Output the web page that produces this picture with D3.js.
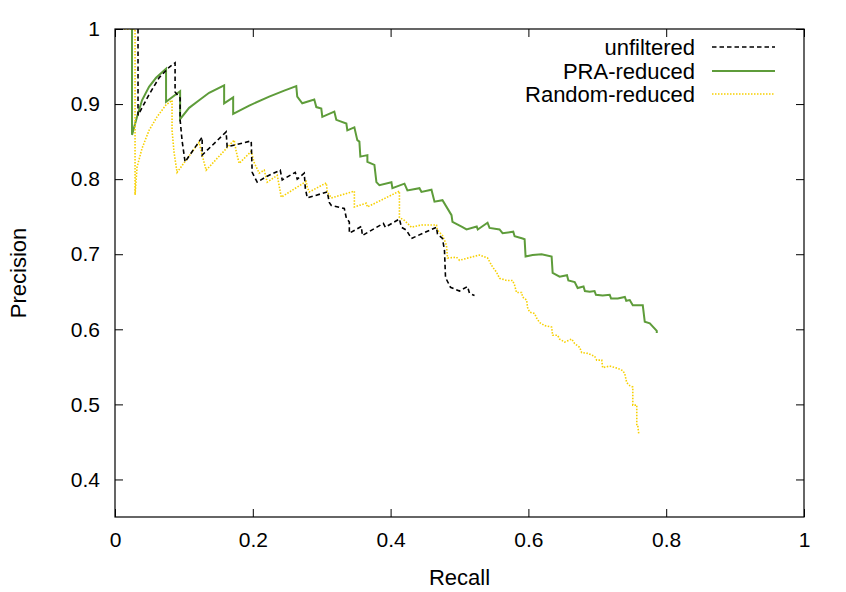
<!DOCTYPE html>
<html><head><meta charset="utf-8">
<script src="https://cdn.jsdelivr.net/npm/d3@7"></script>
<style>body{margin:0;background:#fff}svg{display:block}text{font-family:"Liberation Sans",Arial,sans-serif;fill:#000}</style>
</head><body><svg id="c" width="846" height="592"></svg>
<script>
const seriesNames = ["unfiltered","PRA-reduced","Random-reduced"];
const xTicks = [0,0.2,0.4,0.6,0.8,1];
const yTicks = [0.4,0.5,0.6,0.7,0.8,0.9,1];
const xTickLabels = ["0","0.2","0.4","0.6","0.8","1"];
const yTickLabels = ["0.4","0.5","0.6","0.7","0.8","0.9","1"];

const unfiltered = [[0.0334,1.0],[0.0334,0.885],[0.049,0.912],[0.064,0.935],[0.0785,0.949],[0.0872,0.955],[0.0872,0.916],[0.0945,0.908],[0.0945,0.879],[0.0974,0.851],[0.1017,0.823],[0.1265,0.856],[0.1265,0.832],[0.1613,0.863],[0.1628,0.843],[0.1977,0.851],[0.1991,0.809],[0.2064,0.796],[0.2209,0.804],[0.2398,0.812],[0.2427,0.799],[0.2616,0.809],[0.2645,0.800],[0.2747,0.808],[0.2762,0.788],[0.2791,0.775],[0.3081,0.783],[0.3110,0.769],[0.3140,0.765],[0.3328,0.761],[0.3358,0.748],[0.3401,0.743],[0.3401,0.728],[0.3576,0.737],[0.3590,0.725],[0.3895,0.741],[0.3924,0.736],[0.4128,0.747],[0.4157,0.736],[0.4230,0.732],[0.4302,0.721],[0.4666,0.736],[0.4680,0.727],[0.4753,0.721],[0.4782,0.705],[0.4797,0.669],[0.4869,0.656],[0.5000,0.651],[0.5116,0.657],[0.5145,0.648],[0.5218,0.645]];

const praReduced = [[0.0247,1.0],[0.0247,0.859],[0.032,0.883],[0.0392,0.905],[0.0494,0.923],[0.0596,0.935],[0.0741,0.947],[0.0741,0.903],[0.0945,0.917],[0.0945,0.880],[0.1076,0.895],[0.1221,0.905],[0.1366,0.915],[0.1584,0.925],[0.1584,0.901],[0.1715,0.909],[0.1715,0.887],[0.1948,0.898],[0.2238,0.910],[0.2456,0.918],[0.2631,0.924],[0.2645,0.910],[0.2718,0.901],[0.2892,0.906],[0.2922,0.896],[0.2994,0.894],[0.3009,0.883],[0.3183,0.890],[0.3212,0.879],[0.3358,0.874],[0.3372,0.865],[0.3474,0.869],[0.3517,0.852],[0.3547,0.850],[0.3561,0.830],[0.3663,0.832],[0.3663,0.823],[0.3765,0.819],[0.3794,0.796],[0.3837,0.792],[0.4012,0.796],[0.4026,0.788],[0.4201,0.794],[0.4244,0.785],[0.4419,0.788],[0.4448,0.783],[0.4593,0.786],[0.4637,0.770],[0.4753,0.772],[0.4884,0.752],[0.4898,0.743],[0.5044,0.736],[0.5102,0.733],[0.5250,0.737],[0.5265,0.733],[0.5407,0.742],[0.5436,0.735],[0.5581,0.733],[0.5625,0.728],[0.5780,0.730],[0.5800,0.724],[0.5916,0.721],[0.5945,0.720],[0.5959,0.697],[0.6061,0.699],[0.6192,0.700],[0.6337,0.697],[0.6352,0.675],[0.6453,0.670],[0.6560,0.672],[0.6580,0.665],[0.6672,0.663],[0.6715,0.655],[0.6800,0.657],[0.6820,0.651],[0.6890,0.650],[0.6960,0.651],[0.6980,0.646],[0.7078,0.645],[0.7180,0.646],[0.7200,0.641],[0.7297,0.641],[0.7400,0.643],[0.7420,0.638],[0.7471,0.639],[0.7515,0.632],[0.7660,0.632],[0.7689,0.610],[0.7762,0.608],[0.7863,0.598],[0.7863,0.595]];

const randomReduced = [[0,1.0],[0.0291,1.0],[0.0291,0.779],[0.032,0.816],[0.0392,0.841],[0.0494,0.865],[0.061,0.883],[0.0741,0.899],[0.0828,0.905],[0.0828,0.865],[0.0858,0.835],[0.0901,0.809],[0.1221,0.849],[0.1265,0.832],[0.1323,0.812],[0.173,0.852],[0.1759,0.837],[0.1802,0.821],[0.1977,0.837],[0.2020,0.822],[0.2093,0.808],[0.2166,0.812],[0.2209,0.796],[0.2355,0.805],[0.2413,0.776],[0.2776,0.797],[0.2791,0.789],[0.2820,0.783],[0.3067,0.795],[0.3081,0.783],[0.3140,0.775],[0.3474,0.784],[0.3474,0.763],[0.3648,0.768],[0.3663,0.763],[0.4128,0.784],[0.4128,0.749],[0.4201,0.745],[0.4302,0.736],[0.4448,0.739],[0.4666,0.739],[0.4680,0.732],[0.4753,0.725],[0.4811,0.712],[0.4826,0.695],[0.4956,0.696],[0.5000,0.692],[0.5291,0.699],[0.5407,0.695],[0.5480,0.683],[0.5538,0.676],[0.5581,0.668],[0.5683,0.665],[0.5770,0.665],[0.5799,0.659],[0.5828,0.649],[0.5901,0.649],[0.5916,0.643],[0.5974,0.639],[0.5988,0.629],[0.6017,0.623],[0.6090,0.621],[0.6119,0.615],[0.6163,0.609],[0.6235,0.605],[0.6337,0.603],[0.6352,0.592],[0.6424,0.592],[0.6453,0.587],[0.6526,0.583],[0.6628,0.587],[0.6672,0.581],[0.6744,0.576],[0.6773,0.569],[0.6860,0.568],[0.6962,0.564],[0.6991,0.559],[0.7064,0.559],[0.7078,0.549],[0.7180,0.551],[0.7297,0.548],[0.7369,0.545],[0.7398,0.541],[0.7427,0.529],[0.7471,0.525],[0.7515,0.523],[0.7515,0.499],[0.7573,0.499],[0.7573,0.472],[0.7587,0.472],[0.7602,0.461]];

const svg = d3.select("#c");
const L = 115, R = 804, T = 29, B = 517;
const x = d3.scaleLinear().domain([0,1]).range([L,R]);
const y = d3.scaleLinear().domain([0.35,1]).range([B,T]);

const styles = [
  {data: unfiltered, color:"#000", width:1.6, dash:"4.5,3"},
  {data: praReduced, color:"#5e9c3a", width:2, dash:null},
  {data: randomReduced, color:"#f7d000", width:1.6, dash:"1.5,1.5"}
];

svg.append("clipPath").attr("id","pc").append("rect")
  .attr("x",L).attr("y",T).attr("width",R-L).attr("height",B-T);

const line = d3.line().x(d=>x(d[0])).y(d=>y(d[1]));
const g = svg.append("g").attr("clip-path","url(#pc)");
[1,2,0].forEach(i=>{
  const s = styles[i];
  g.append("path").datum(s.data).attr("d",line).attr("fill","none")
    .attr("stroke",s.color).attr("stroke-width",s.width)
    .attr("stroke-dasharray",s.dash);
});

const fmtX = (d,i)=>xTickLabels[i], fmtY=(d,i)=>yTickLabels[i];
const ax = [
  svg.append("g").attr("transform",`translate(0,${B})`).call(d3.axisBottom(x).tickValues(xTicks).tickSize(-8).tickPadding(15).tickFormat(fmtX)),
  svg.append("g").attr("transform",`translate(0,${T})`).call(d3.axisTop(x).tickValues(xTicks).tickSize(-8).tickFormat("")),
  svg.append("g").attr("transform",`translate(${L},0)`).call(d3.axisLeft(y).tickValues(yTicks).tickSize(-8).tickPadding(15).tickFormat(fmtY)),
  svg.append("g").attr("transform",`translate(${R},0)`).call(d3.axisRight(y).tickValues(yTicks).tickSize(-8).tickFormat(""))
];
ax.forEach(a=>{
  a.select(".domain").remove();
  a.selectAll("line").attr("stroke","#000").attr("stroke-width",1);
  a.selectAll("text").attr("font-size",21).attr("font-family","Liberation Sans, Arial, sans-serif").attr("fill","#000");
});
svg.append("rect").attr("x",L).attr("y",T).attr("width",R-L).attr("height",B-T)
  .attr("fill","none").attr("stroke","#000").attr("stroke-width",1.2);

svg.append("text").attr("x",(L+R)/2).attr("y",585).attr("text-anchor","middle").attr("font-size",22).text("Recall");
svg.append("text").attr("transform",`translate(26,${(T+B)/2}) rotate(-90)`).attr("text-anchor","middle").attr("font-size",22).text("Precision");

const legY = [47,71,94];
styles.forEach((s,i)=>{
  svg.append("text").attr("x",695).attr("y",legY[i]).attr("dy","0.35em").attr("text-anchor","end")
    .attr("font-size",22).text(seriesNames[i]);
  svg.append("line").attr("x1",712).attr("x2",775).attr("y1",legY[i]).attr("y2",legY[i])
    .attr("stroke",s.color).attr("stroke-width",s.width).attr("stroke-dasharray",s.dash);
});
</script></body></html>
